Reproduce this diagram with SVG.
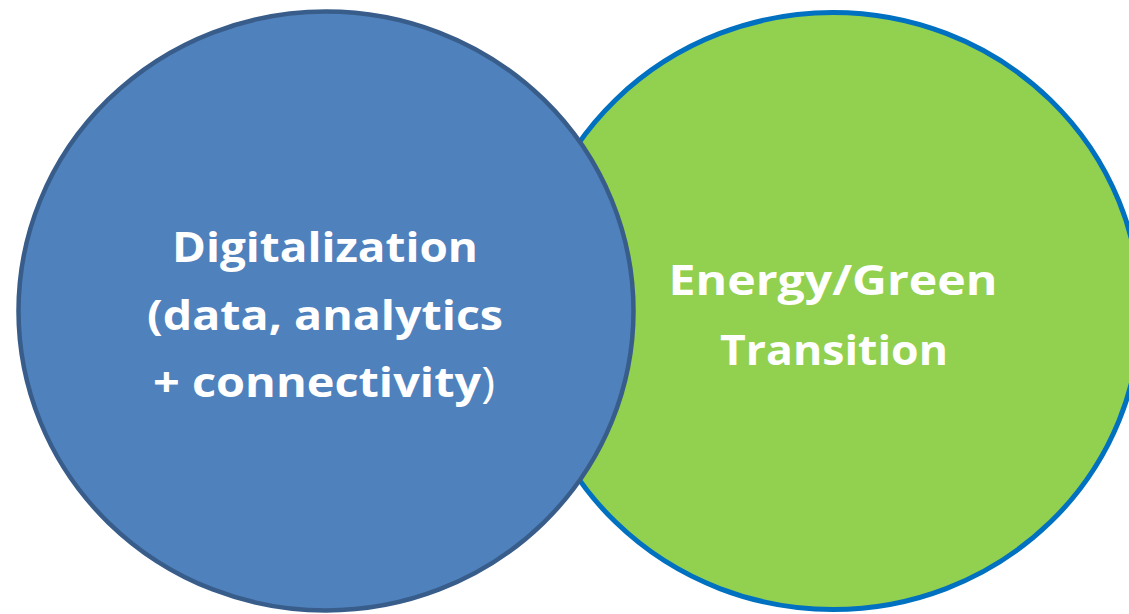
<svg xmlns="http://www.w3.org/2000/svg" width="1129" height="614" viewBox="0 0 1129 614">
  <style>
    .lbl { font-family: "Open Sans", "Noto Sans", "Liberation Sans", sans-serif; font-weight: bold; font-size: 42px; fill: #FFFFFF; text-anchor: middle; }
    .thin { font-weight: normal; }
  </style>
  <rect x="0" y="0" width="1129" height="614" fill="#FFFFFF"/>
  <g id="node-energy">
    <ellipse cx="833" cy="311" rx="307.5" ry="298.5" fill="#92D050" stroke="#0070C0" stroke-width="5"/>
    <text class="lbl" x="833" y="295" textLength="329" lengthAdjust="spacingAndGlyphs">Energy/Green</text>
    <text class="lbl" x="834" y="365" textLength="228" lengthAdjust="spacingAndGlyphs">Transition</text>
  </g>
  <g id="node-digital">
    <ellipse cx="326" cy="311" rx="307.5" ry="299.5" fill="#4F81BD" stroke="#385D8A" stroke-width="4.5"/>
    <text class="lbl" x="325" y="262" textLength="306" lengthAdjust="spacingAndGlyphs">Digitalization</text>
    <text class="lbl" x="325" y="330" textLength="356" lengthAdjust="spacingAndGlyphs">(data, analytics</text>
    <text class="lbl" x="324" y="397" textLength="342" lengthAdjust="spacingAndGlyphs">+ connectivity<tspan class="thin">)</tspan></text>
  </g>
  <g id="connectors"/>
</svg>
